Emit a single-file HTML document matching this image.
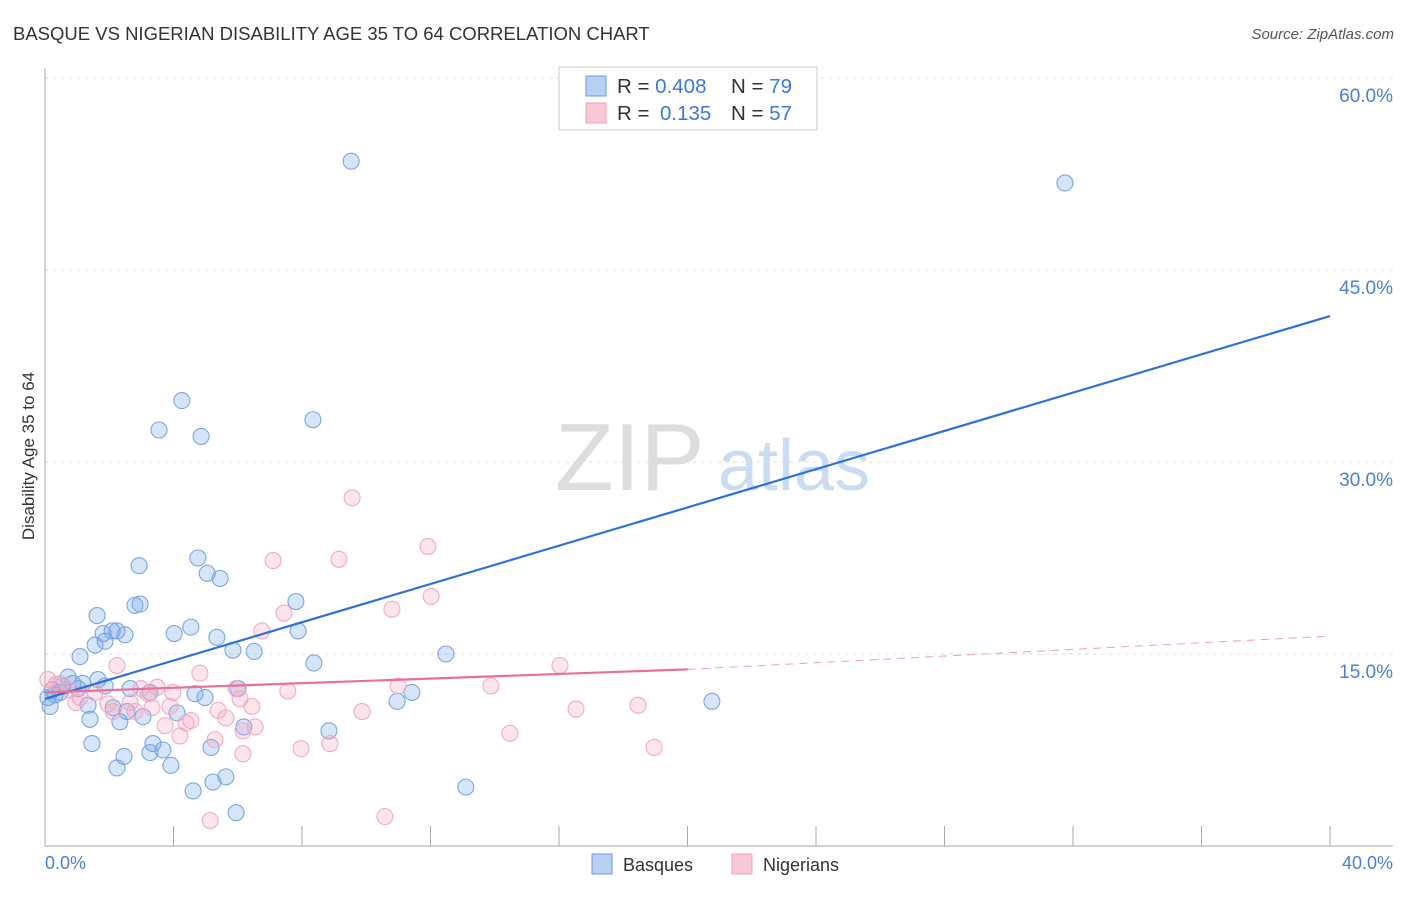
<!DOCTYPE html>
<html><head><meta charset="utf-8">
<style>
body{margin:0;background:#fff;font-family:"Liberation Sans",sans-serif;}
svg text{font-family:"Liberation Sans",sans-serif;}
</style></head>
<body>
<svg id="chart" width="1406" height="892" xmlns="http://www.w3.org/2000/svg">
<text x="13" y="40" font-size="18.5" fill="#333">BASQUE VS NIGERIAN DISABILITY AGE 35 TO 64 CORRELATION CHART</text>
<text x="1394" y="39" font-size="15" fill="#555" text-anchor="end" font-style="italic">Source: ZipAtlas.com</text>
<g>
<text x="555" y="490" font-family="Liberation Serif,serif" font-size="96" fill="#ddd">ZIP</text>
<text x="718" y="490" font-size="72" fill="#c9dcf2">atlas</text>
</g>
<g id="grid"></g>
<line x1="45" y1="68" x2="45" y2="846" stroke="#aaa" stroke-width="1"/>
<line x1="45" y1="846" x2="1393" y2="846" stroke="#aaa" stroke-width="1"/>
<g id="xticks"></g>
<text transform="translate(34,456) rotate(-90)" font-size="17" fill="#333" text-anchor="middle">Disability Age 35 to 64</text>
<text x="45" y="869" font-size="18" fill="#4a7fd4">0.0%</text>
<text x="1393" y="869" font-size="18" fill="#4a7fd4" text-anchor="end">40.0%</text>
<g id="points"></g>
<g id="lines"></g>
<g>
<rect x="559" y="67" width="258" height="63" fill="#fff" stroke="#ccc"/>
<rect x="586" y="76" width="20" height="20" fill="#b8d1f3" stroke="#6a9be0"/>
<rect x="586" y="103" width="20" height="20" fill="#f9c9d8" stroke="#f0a0bc"/>
<text x="617" y="93" font-size="20.5" fill="#333">R = <tspan fill="#3c78d8">0.408</tspan><tspan x="731">N = </tspan><tspan fill="#3c78d8">79</tspan></text>
<text x="617" y="120" font-size="20.5" fill="#333">R = <tspan x="660" fill="#3c78d8">0.135</tspan><tspan x="731">N = </tspan><tspan fill="#3c78d8">57</tspan></text>
</g>
<g>
<rect x="592" y="854" width="20" height="20" fill="#b8d1f3" stroke="#6a9be0"/>
<text x="623" y="871" font-size="18" fill="#333">Basques</text>
<rect x="732" y="854" width="20" height="20" fill="#f9c9d8" stroke="#f0a0bc"/>
<text x="763" y="871" font-size="18" fill="#333">Nigerians</text>
</g>
</svg>
<script>
const yTicks=[15,30,45,60];
const yTickLabels=["15.0%","30.0%","45.0%","60.0%"];
const xTicks=[0,4,8,12,16,20,24,28,32,36,40];
const basqueX=[9.53,31.75,4.26,3.55,4.86,8.34,2.93,4.76,5.05,5.45,2.80,2.96,1.62,7.81,4.54,4.02,7.88,1.81,2.09,2.24,2.49,1.87,1.56,5.35,5.85,6.51,12.48,1.09,8.37,0.72,1.65,0.87,1.18,1.87,0.53,0.22,2.65,6.01,3.27,4.67,4.98,11.42,10.96,20.76,0.09,0.31,1.34,0.16,2.12,2.55,4.11,3.05,1.40,2.33,6.19,8.84,1.46,3.36,5.17,3.67,2.46,3.27,3.92,2.24,5.63,5.23,4.61,13.1,5.95,0.47,1.03];
const basqueY=[53.5,51.8,34.8,32.5,32.0,33.3,21.9,22.5,21.3,20.9,18.8,18.9,18.0,19.1,17.1,16.6,16.8,16.6,16.8,16.8,16.5,16.0,15.7,16.3,15.3,15.2,15.0,14.8,14.3,13.2,13.0,12.7,12.7,12.5,12.5,12.2,12.3,12.3,12.0,11.9,11.6,12.0,11.3,11.3,11.6,11.8,11.0,10.9,10.8,10.5,10.4,10.1,9.9,9.7,9.3,9.0,8.0,8.0,7.7,7.5,7.0,7.3,6.3,6.1,5.4,5.0,4.3,4.6,2.6,12.0,12.3];
const nigerX=[9.56,11.92,7.10,9.15,12.02,7.44,10.80,6.75,16.03,2.24,4.82,0.09,0.47,0.78,3.49,2.99,5.95,7.56,10.99,13.88,3.98,3.21,1.56,1.09,6.07,2.65,1.96,0.96,6.44,18.46,16.53,9.87,5.39,3.89,2.80,2.12,4.54,5.63,4.39,3.74,6.54,6.16,14.47,4.20,5.29,8.87,7.97,18.96,6.16,10.58,5.14,0.34,3.33];
const nigerY=[27.2,23.4,22.3,22.4,19.5,18.2,18.5,16.8,14.1,14.1,13.5,13.0,12.7,12.2,12.4,12.3,12.3,12.1,12.5,12.5,12.0,11.9,12.0,11.6,11.5,11.2,11.1,11.2,10.9,11.0,10.7,10.5,10.6,10.9,10.5,10.5,9.8,10.0,9.6,9.4,9.3,9.0,8.8,8.6,8.3,8.0,7.6,7.7,7.2,2.3,2.0,12.6,10.8];
const basqueTrend=[[0,11.5],[40,41.4]];
const nigerTrend=[[0,12.0],[20,13.8]];
const nigerTrendExt=[[20,13.8],[40,16.4]];

const NS="http://www.w3.org/2000/svg";
const X0=45,X1=1330,Y0=846,PXPER=12.8;
function sx(v){return X0+(X1-X0)*v/40;}
function sy(v){return Y0-v*PXPER;}
function mk(tag,attrs,parent){const e=document.createElementNS(NS,tag);for(const k in attrs)e.setAttribute(k,attrs[k]);document.getElementById(parent).appendChild(e);return e;}

yTicks.forEach((t,i)=>{
 const l=mk('line',{x1:45,x2:1393,y1:sy(t),y2:sy(t),stroke:'#ddd','stroke-dasharray':'4,4'},'grid');
 
 
 const tx=mk('text',{x:1393,y:sy(t)+24,'font-size':19,fill:'#4a7fd4','text-anchor':'end'},'grid');
 tx.textContent=yTickLabels[i];
 
 
});
xTicks.forEach(t=>{
 const l=mk('line',{x1:sx(t),x2:sx(t),y1:826,y2:846,stroke:'#aaa'},'xticks');
 
 
});
basqueX.forEach((v,i)=>{
 const c=mk('circle',{cx:sx(v),cy:sy(basqueY[i]),r:8,fill:'rgba(110,160,235,0.28)',stroke:'#7aa6e4','stroke-width':1.1},'points');
 
 
});
nigerX.forEach((v,i)=>{
 const c=mk('circle',{cx:sx(v),cy:sy(nigerY[i]),r:8,fill:'rgba(245,160,190,0.28)',stroke:'#f2aac2','stroke-width':1.1},'points');
 
 
});
function line(p,attrs,name){
 const l=mk('line',Object.assign({x1:sx(p[0][0]),y1:sy(p[0][1]),x2:sx(p[1][0]),y2:sy(p[1][1])},attrs),'lines');
 
 
}
line(basqueTrend,{stroke:'#2e72d8','stroke-width':2.2},'basque-trend-line');
line(nigerTrend,{stroke:'#e8709a','stroke-width':2.2},'nigerian-trend-line');
line(nigerTrendExt,{stroke:'#eaa0b8','stroke-width':1,'stroke-dasharray':'8,6'},'nigerian-trend-extension');
</script>
</body></html>
